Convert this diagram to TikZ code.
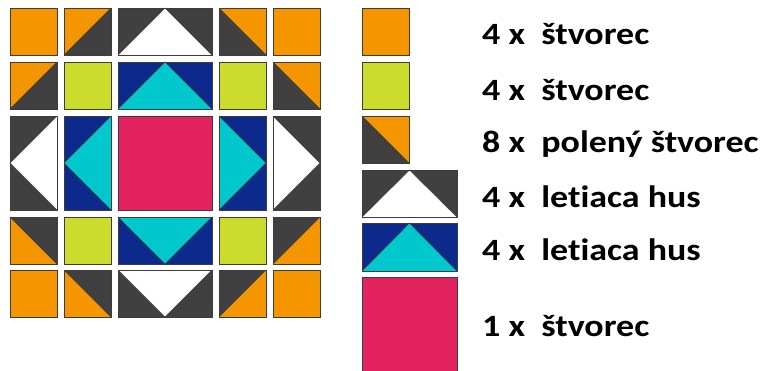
\documentclass[tikz,border=0pt]{standalone}
\usepackage{fontspec}
\setmainfont{Carlito}[RawFeature={-liga;-clig;-calt;-dlig}]
\definecolor{orng}{HTML}{F59600}
\definecolor{dgray}{HTML}{404040}
\definecolor{lime}{HTML}{CBDC2C}
\definecolor{navy}{HTML}{0B2A8C}
\definecolor{cyanq}{HTML}{00C8CC}
\definecolor{pinkq}{HTML}{E2235F}
\definecolor{edge}{HTML}{3C3C3C}
\tikzset{
  tile/.style={draw=edge, line width=0.9pt, line join=miter},
  seam/.style={draw=edge, line width=0.6pt},
  lbl/.style={anchor=base west, inner sep=0pt, xscale=1.16, font=\bfseries\fontsize{31}{31}\selectfont}
}
% plain square: x y w h colour
\newcommand\qsq[5]{\fill[#5] (#1,#2) rectangle ++(#3,#4); \draw[tile] (#1,#2) rectangle ++(#3,#4);}
% half square, diagonal bottom-left to top-right: x y upper-left lower-right
\newcommand\qhA[4]{%
  \fill[#3] (#1,#2) -- ++(47,0) -- ++(-47,47) -- cycle;
  \fill[#4] (#1+47,#2) -- ++(0,47) -- ++(-47,0) -- cycle;
  \draw[seam] (#1+47,#2) -- (#1,#2+47);
  \draw[tile] (#1,#2) rectangle ++(47,47);}
% half square, diagonal top-left to bottom-right: x y upper-right lower-left
\newcommand\qhB[4]{%
  \fill[#3] (#1,#2) -- ++(47,0) -- ++(0,47) -- cycle;
  \fill[#4] (#1,#2) -- (#1+47,#2+47) -- (#1,#2+47) -- cycle;
  \draw[seam] (#1,#2) -- (#1+47,#2+47);
  \draw[tile] (#1,#2) rectangle ++(47,47);}
% flying geese: x y w h background goose
\newcommand\qgUp[6]{%
  \fill[#5] (#1,#2) rectangle ++(#3,#4);
  \fill[#6] (#1,#2+#4) -- (#1+#3/2,#2) -- (#1+#3,#2+#4) -- cycle;
  \draw[seam] (#1,#2+#4) -- (#1+#3/2,#2) -- (#1+#3,#2+#4);
  \draw[tile] (#1,#2) rectangle ++(#3,#4);}
\newcommand\qgDown[6]{%
  \fill[#5] (#1,#2) rectangle ++(#3,#4);
  \fill[#6] (#1,#2) -- (#1+#3/2,#2+#4) -- (#1+#3,#2) -- cycle;
  \draw[seam] (#1,#2) -- (#1+#3/2,#2+#4) -- (#1+#3,#2);
  \draw[tile] (#1,#2) rectangle ++(#3,#4);}
\newcommand\qgLeft[6]{%
  \fill[#5] (#1,#2) rectangle ++(#3,#4);
  \fill[#6] (#1+#3,#2) -- (#1,#2+#4/2) -- (#1+#3,#2+#4) -- cycle;
  \draw[seam] (#1+#3,#2) -- (#1,#2+#4/2) -- (#1+#3,#2+#4);
  \draw[tile] (#1,#2) rectangle ++(#3,#4);}
\newcommand\qgRight[6]{%
  \fill[#5] (#1,#2) rectangle ++(#3,#4);
  \fill[#6] (#1,#2) -- (#1+#3,#2+#4/2) -- (#1,#2+#4) -- cycle;
  \draw[seam] (#1,#2) -- (#1+#3,#2+#4/2) -- (#1,#2+#4);
  \draw[tile] (#1,#2) rectangle ++(#3,#4);}
\begin{document}
\begin{tikzpicture}[x=1pt,y=-1pt]
\useasboundingbox (0,0) rectangle (766,370);
\clip (0,0) rectangle (766,370);
% row 1
\qsq{10}{8}{47}{47}{orng}
\qhA{64}{8}{orng}{dgray}
\qgUp{118}{8}{94}{47}{dgray}{white}
\qhB{219}{8}{orng}{dgray}
\qsq{273}{8}{47}{47}{orng}
% row 2
\qhA{10}{62}{orng}{dgray}
\qsq{64}{62}{47}{47}{lime}
\qgUp{118}{62}{94}{47}{navy}{cyanq}
\qsq{219}{62}{47}{47}{lime}
\qhB{273}{62}{orng}{dgray}
% row 3
\qgLeft{10}{116}{47}{94}{dgray}{white}
\qgLeft{64}{116}{47}{94}{navy}{cyanq}
\qsq{118}{116}{94}{94}{pinkq}
\qgRight{219}{116}{47}{94}{navy}{cyanq}
\qgRight{273}{116}{47}{94}{dgray}{white}
% row 4
\qhB{10}{217}{dgray}{orng}
\qsq{64}{217}{47}{47}{lime}
\qgDown{118}{217}{94}{47}{navy}{cyanq}
\qsq{219}{217}{47}{47}{lime}
\qhA{273}{217}{dgray}{orng}
% row 5
\qsq{10}{270}{47}{47}{orng}
\qhB{64}{270}{dgray}{orng}
\qgDown{118}{270}{94}{47}{dgray}{white}
\qhA{219}{270}{dgray}{orng}
\qsq{273}{270}{47}{47}{orng}
% legend
\qsq{362}{8}{47}{47}{orng}
\qsq{362}{62}{47}{47}{lime}
\qhB{362}{116}{orng}{dgray}
\qgUp{362}{170}{95}{47}{dgray}{white}
\qgUp{362}{223}{95}{48}{navy}{cyanq}
\qsq{362}{277}{95}{96}{pinkq}
\node[lbl] (t1) at (482,44) {4 x\ \ štvorec};
\node[lbl] (t2) at (482,100) {4 x\ \ štvorec};
\node[lbl] (t3) at (482,152) {8 x\ \ polený štvorec};
\node[lbl] (t4) at (482,207) {4 x\ \ letiaca hus};
\node[lbl] (t5) at (482,260) {4 x\ \ letiaca hus};
\node[lbl] (t6) at (482,336) {1 x\ \ štvorec};
\end{tikzpicture}
\end{document}
